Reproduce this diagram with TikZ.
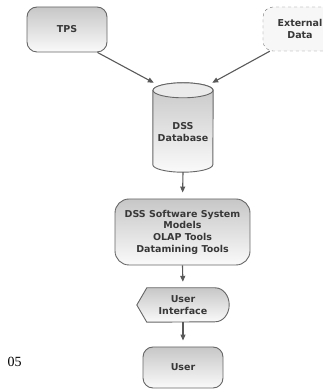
\documentclass[tikz,border=0pt]{standalone}
\usepackage{fontspec}
\setmainfont{DejaVu Sans}
\newfontfamily\serifnum{Liberation Serif}
\usetikzlibrary{arrows.meta,backgrounds}
\begin{document}
\begin{tikzpicture}[x=1pt,y=1pt,
  lbl/.style={font=\bfseries\fontsize{9.5}{11.7}\selectfont, text=black!78, align=center},
  gfill/.style={draw=black!60, line width=0.9pt, top color=black!22, bottom color=black!2},
  gbox/.style={lbl, gfill, rounded corners=10pt},
  arr/.style={draw=black!65, line width=1.1pt, -{Triangle[length=6pt,width=5pt]}}]
\clip (0,0) rectangle (323,390);
\node[gbox, minimum width=80, minimum height=45] (tps) at (67,360.5) {TPS};
\node[lbl, draw=black!55, dashed, rounded corners=10pt, fill=black!3, minimum width=74, minimum height=44] (ext) at (300,361) {External\\Data};
% database cylinder
\node[lbl, minimum width=60, minimum height=89] (db) at (183,262.5) {};
\node[lbl] (dbt) at (183,258) {DSS\\Database};
\begin{pgfonlayer}{background}
\path[gfill] (db.north west) ++(0,-7.5) -- ([yshift=7.5]db.south west)
  arc[start angle=180,end angle=360,x radius=30,y radius=7.5]
  -- ([yshift=-7.5]db.north east)
  arc[start angle=0,end angle=180,x radius=30,y radius=7.5] -- cycle;
\path[draw=black!60, line width=0.9pt, fill=black!8] ([yshift=-7.5]db.north) ellipse[x radius=30,y radius=7.5];
\end{pgfonlayer}
\node[gbox, rounded corners=14pt, minimum width=135, minimum height=66] (dss) at (182.5,158) {DSS Software System\\Models\\OLAP Tools\\Datamining Tools};
\node[lbl, minimum width=92, minimum height=34] (ui) at (183,85) {User\\Interface};
\begin{pgfonlayer}{background}
\path[gfill] ([xshift=10]ui.north west) -- ([xshift=-14]ui.north east) arc[start angle=90,end angle=-90,x radius=14,y radius=17] -- ([xshift=10]ui.south west) -- (ui.west) -- cycle;
\end{pgfonlayer}
\node[gbox, minimum width=80, minimum height=41] (user) at (183,22.5) {User};
\node[font=\serifnum\fontsize{14}{14}\selectfont] (pg) at (14.5,28) {05};
\draw[arr] ([xshift=-10]tps.south east) -- ([xshift=1]db.north west);
\draw[arr] ([xshift=7]ext.south west) -- ([xshift=-1]db.north east);
\draw[arr, shorten >=6pt] (db.south) -- (dss.north);
\draw[arr, shorten >=6pt] (dss.south) -- (ui.north);
\draw[arr, shorten >=6pt] (ui.south) -- (user.north);
\end{tikzpicture}
\end{document}
